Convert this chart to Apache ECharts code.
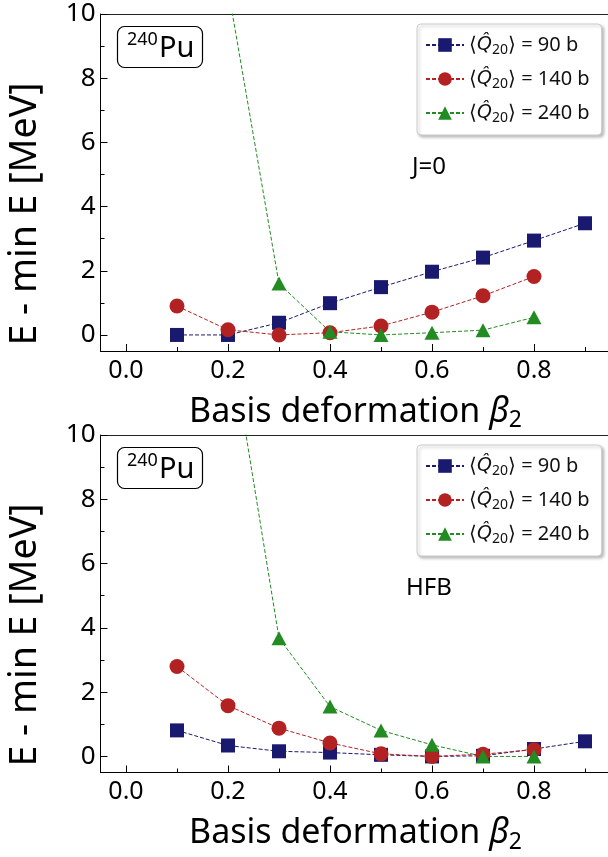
<!DOCTYPE html>
<html>
<head>
<meta charset="utf-8">
<script src="https://cdn.jsdelivr.net/npm/echarts@6/dist/echarts.min.js"></script>
<style>html,body{margin:0;padding:0;background:#fff;overflow:hidden;}#c{width:608px;height:857px;}</style>
</head>
<body>
<div id="c"></div>
<script>
// ---------- data ----------
const X_BLUE  = [0.1, 0.2, 0.3, 0.4, 0.5, 0.6, 0.7, 0.8, 0.9];
const X_RED   = [0.1, 0.2, 0.3, 0.4, 0.5, 0.6, 0.7, 0.8];
const X_GREEN = [0.2, 0.3, 0.4, 0.5, 0.6, 0.7, 0.8];

// Top panel (J=0)
const J0_Q90  = [0.0, 0.0, 0.38, 0.99, 1.49, 1.97, 2.41, 2.94, 3.48];
const J0_Q140 = [0.90, 0.16, 0.0, 0.07, 0.28, 0.71, 1.22, 1.82];
const J0_Q240 = [10.8, 1.60, 0.10, 0.0, 0.07, 0.15, 0.55];

// Bottom panel (HFB)
const HFB_Q90  = [0.81, 0.34, 0.16, 0.12, 0.05, 0.0, 0.02, 0.23, 0.47];
const HFB_Q140 = [2.80, 1.58, 0.88, 0.42, 0.08, 0.0, 0.07, 0.21];
const HFB_Q240 = [13.45, 3.68, 1.55, 0.81, 0.36, 0.0, 0.0];

const X_MAJOR = [0.0, 0.2, 0.4, 0.6, 0.8];
const X_MINOR = [0.1, 0.3, 0.5, 0.7, 0.9];
const Y_MAJOR = [0, 2, 4, 6, 8, 10];
const Y_MINOR = [1, 3, 5, 7, 9];

const SERIES_NAMES = ['90', '140', '240'];
const PANEL_TEXT = ['J=0', 'HFB'];
const Y_TITLE = 'E - min E [MeV]';

// ---------- style ----------
const FONT = 'Noto Sans';
const COLORS = ['#191970', '#b22222', '#228b22'];
const SYMBOLS = ['rect', 'circle', 'triangle'];
const SIZES = [14, 15, [15, 14]];
const X_MIN = -0.05, X_MAX = 0.95;

const chart = echarts.init(document.getElementById('c'));

const grids = [
  {left: 100.5, top: 14, width: 510, height: 337},
  {left: 100.5, top: 435, width: 510, height: 337.5}
].map(g => Object.assign({show: false, borderWidth: 0, borderColor: 'transparent', outerBoundsMode: 'none'}, g));

const xAxes = [], yAxes = [];
grids.forEach((g, gi) => {
  xAxes.push({
    gridIndex: gi, type: 'value', min: X_MIN, max: X_MAX, position: 'bottom',
    axisLine: {show: true, onZero: false, lineStyle: {color: '#000', width: 1}},
    axisTick: {show: true, inside: true, length: 7, customValues: X_MAJOR, lineStyle: {color: '#000', width: 1}},
    axisLabel: {show: true, customValues: X_MAJOR, margin: 7, color: '#000', fontFamily: FONT, fontSize: 25,
      formatter: v => v.toFixed(1)},
    splitLine: {show: false},
    name: '{a|Basis deformation }{b|β}{s|2}',
    nameLocation: 'middle', nameGap: 41,
    nameTextStyle: {rich: {
      a: {fontFamily: FONT, fontSize: 34, color: '#000', lineHeight: 40, verticalAlign: 'middle'},
      b: {fontFamily: FONT, fontSize: 34, fontStyle: 'italic', color: '#000', lineHeight: 40, verticalAlign: 'middle'},
      s: {fontFamily: FONT, fontSize: 23, color: '#000', lineHeight: 18, verticalAlign: 'bottom'}
    }}
  });
  xAxes.push({
    gridIndex: gi, type: 'value', min: X_MIN, max: X_MAX, position: 'bottom',
    axisLine: {show: false, onZero: false},
    axisTick: {show: true, inside: true, length: 4, customValues: X_MINOR, lineStyle: {color: '#000', width: 1}},
    axisLabel: {show: false}, splitLine: {show: false}
  });
  xAxes.push({
    gridIndex: gi, type: 'value', min: X_MIN, max: X_MAX, position: 'top',
    axisLine: {show: true, onZero: false, lineStyle: {color: '#222', width: 1}},
    axisTick: {show: false}, axisLabel: {show: false}, splitLine: {show: false}
  });
  yAxes.push({
    gridIndex: gi, type: 'value', min: -0.5, max: 10, position: 'left',
    axisLine: {show: true, onZero: false, lineStyle: {color: '#000', width: 1}},
    axisTick: {show: true, inside: true, length: 7, customValues: Y_MAJOR, lineStyle: {color: '#000', width: 1}},
    axisLabel: {show: true, customValues: Y_MAJOR, margin: 5, color: '#000', fontFamily: FONT, fontSize: 26},
    splitLine: {show: false}
  });
  yAxes.push({
    gridIndex: gi, type: 'value', min: -0.5, max: 10, position: 'left',
    axisLine: {show: false, onZero: false},
    axisTick: {show: true, inside: true, length: 4, customValues: Y_MINOR, lineStyle: {color: '#000', width: 1}},
    axisLabel: {show: false}, splitLine: {show: false}
  });
});

function mk(gi, si, xs, ys) {
  return {
    type: 'line', name: SERIES_NAMES[si],
    xAxisIndex: gi * 3, yAxisIndex: gi * 2,
    data: xs.map((x, i) => [x, ys[i]]),
    symbol: SYMBOLS[si], symbolSize: SIZES[si],
    showAllSymbol: true, clip: true, animation: false,
    lineStyle: {color: COLORS[si], width: 1, type: [4, 2]},
    itemStyle: {color: COLORS[si]},
    emphasis: {disabled: true}
  };
}

const series = [
  mk(0, 0, X_BLUE, J0_Q90), mk(0, 1, X_RED, J0_Q140), mk(0, 2, X_GREEN, J0_Q240),
  mk(1, 0, X_BLUE, HFB_Q90), mk(1, 1, X_RED, HFB_Q140), mk(1, 2, X_GREEN, HFB_Q240)
];

const legendRich = {
  a: {fontFamily: FONT, fontSize: 20, color: '#111', lineHeight: 24, verticalAlign: 'middle'},
  q: {fontFamily: 'DejaVu Sans', fontSize: 19, fontStyle: 'italic', color: '#111', lineHeight: 24, verticalAlign: 'middle'},
  s: {fontFamily: FONT, fontSize: 14, color: '#111', lineHeight: 12, verticalAlign: 'bottom'}
};
function legend(top) {
  return {
    data: SERIES_NAMES, orient: 'vertical', left: 417, top: top,
    padding: [11, 12, 10, 8], itemGap: 12, itemWidth: 38, itemHeight: 17,
    backgroundColor: '#fff', borderColor: '#cccccc', borderWidth: 1, borderRadius: 4,
    shadowColor: 'rgba(0,0,0,0.25)', shadowBlur: 3, shadowOffsetX: 2, shadowOffsetY: 2,
    selectedMode: false,
    formatter: n => '{a|⟨}{q|Q\u0302}{s|20}{a|⟩ = ' + n + ' b}',
    textStyle: {rich: legendRich}
  };
}

const graphics = [];
[[0, 214, 167, 26], [1, 635, 588, 447]].forEach(([gi, ty, py, boxTop]) => {
  graphics.push({
    type: 'text', x: 25, y: ty, rotation: Math.PI / 2,
    style: {text: Y_TITLE, fontFamily: FONT, fontSize: 37.5, fill: '#000', align: 'center', verticalAlign: 'middle'}
  });
  graphics.push({
    type: 'text', x: 429, y: py,
    style: {text: PANEL_TEXT[gi], fontFamily: FONT, fontSize: 24, fill: '#000', align: 'center', verticalAlign: 'middle'}
  });
  graphics.push({
    type: 'rect', shape: {x: 117.5, y: boxTop + 0.5, width: 85, height: 41, r: 7},
    style: {fill: '#fff', stroke: '#000', lineWidth: 1.2}, z: 10
  });
  graphics.push({
    type: 'text', x: 127, y: boxTop + 14, z: 11,
    style: {text: '240', fontFamily: FONT, fontSize: 18, fill: '#000', align: 'left', verticalAlign: 'middle'}
  });
  graphics.push({
    type: 'text', x: 159, y: boxTop + 23, z: 11,
    style: {text: 'Pu', fontFamily: FONT, fontSize: 29, fill: '#000', align: 'left', verticalAlign: 'middle'}
  });
});

chart.setOption({
  backgroundColor: '#fff',
  animation: false,
  grid: grids,
  xAxis: xAxes,
  yAxis: yAxes,
  legend: [legend(24), legend(445)],
  series: series,
  graphic: graphics
});
</script>
</body>
</html>
